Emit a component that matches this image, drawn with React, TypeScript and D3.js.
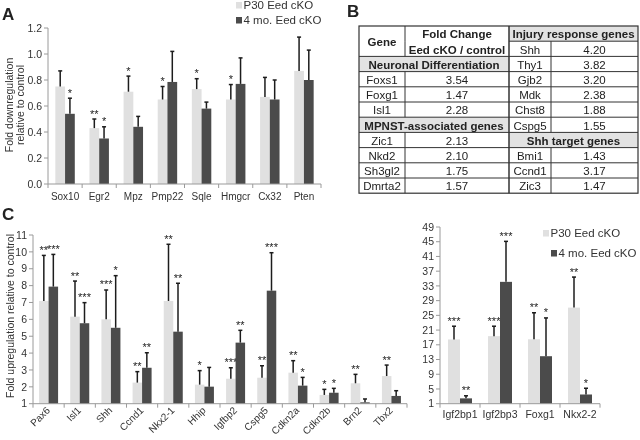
import React from 'react';
import * as d3 from 'd3';

const FONT = "'Liberation Sans', Arial, Helvetica, sans-serif";
const LIGHT = '#e0e0e0';
const DARK = '#4b4b4b';
const ERR = '#1c1c1c';
const AXIS = '#9a9a9a';

const seriesNames = ['P30 Eed cKO', '4 mo. Eed cKO'];

// ---------- Panel A ----------
const aGenes = ['Sox10', 'Egr2', 'Mpz', 'Pmp22', 'Sqle', 'Hmgcr', 'Cx32', 'Pten'];
const aP30 = [0.75, 0.43, 0.71, 0.65, 0.73, 0.65, 0.67, 0.87];
const aP30Err = [0.12, 0.07, 0.12, 0.10, 0.08, 0.115, 0.15, 0.26];
const aP30Sig = ['', '**', '*', '*', '*', '*', '', ''];
const a4mo = [0.54, 0.35, 0.44, 0.785, 0.58, 0.77, 0.65, 0.80];
const a4moErr = [0.12, 0.09, 0.08, 0.235, 0.05, 0.20, 0.15, 0.23];
const a4moSig = ['*', '*', '', '', '', '', '', ''];
const aTicks = [0, 0.2, 0.4, 0.6, 0.8, 1.0, 1.2];

// ---------- Panel C (left) ----------
const cGenes = ['Pax6', 'Isl1', 'Shh', 'Ccnd1', 'Nkx2-1', 'Hhip', 'Igfbp2', 'Cspg5', 'Cdkn2a', 'Cdkn2b', 'Brn2', 'Tbx2'];
const cP30 = [7.09, 6.16, 6.0, 2.25, 7.09, 2.13, 2.48, 2.54, 2.84, 1.52, 2.21, 2.64];
const cP30Err = [2.7, 2.11, 1.74, 0.65, 3.36, 0.83, 0.65, 0.71, 0.71, 0.33, 0.53, 0.65];
const cP30Sig = ['**', '**', '***', '**', '**', '*', '***', '**', '**', '*', '**', '**'];
const c4mo = [7.94, 5.77, 5.5, 3.13, 5.27, 2.01, 4.62, 7.7, 2.07, 1.65, 1.08, 1.46];
const c4moErr = [1.91, 1.22, 3.09, 0.89, 2.87, 1.14, 0.73, 2.25, 0.49, 0.26, 0.2, 0.31];
const c4moSig = ['***', '***', '*', '**', '**', '', '**', '***', '*', '*', '', ''];
const cTicks = [1, 2, 3, 4, 5, 6, 7, 8, 9, 10, 11];

// ---------- Panel C (right) ----------
const dGenes = ['Igf2bp1', 'Igf2bp3', 'Foxg1', 'Nkx2-2'];
const dP30 = [18.45, 19.35, 18.5, 27.1];
const dP30Err = [3.6, 2.7, 7.2, 8.3];
const dP30Sig = ['***', '***', '**', '**'];
const d4mo = [2.45, 34.1, 13.9, 3.5];
const d4moErr = [0.7, 11.0, 10.4, 1.7];
const d4moSig = ['**', '***', '*', '*'];
const dTicks = [1, 5, 9, 13, 17, 21, 25, 29, 33, 37, 41, 45, 49];

// ---------- Panel B (table) ----------
const neuroGenes = ['Foxs1', 'Foxg1', 'Isl1'];
const neuroVals = ['3.54', '1.47', '2.28'];
const mpnstGenes = ['Zic1', 'Nkd2', 'Sh3gl2', 'Dmrta2'];
const mpnstVals = ['2.13', '2.10', '1.75', '1.57'];
const injuryGenes = ['Shh', 'Thy1', 'Gjb2', 'Mdk', 'Chst8', 'Cspg5'];
const injuryVals = ['4.20', '3.82', '3.20', '2.38', '1.88', '1.55'];
const shhGenes = ['Bmi1', 'Ccnd1', 'Zic3'];
const shhVals = ['1.43', '3.17', '1.47'];

type PanelProps = {
  genes: string[];
  v1: number[]; e1: number[]; s1: string[];
  v2: number[]; e2: number[]; s2: string[];
  x0: number; x1: number; yBase: number; yTop: number;
  domain: [number, number]; ticks: number[]; fmt: (v: number) => string;
  rotate: boolean; pad: number; labelY: number; labelSize: number;
};

function BarPanel(p: PanelProps) {
  const x = d3.scaleBand<string>().domain(p.genes).range([p.x0, p.x1]).paddingInner(p.pad).paddingOuter(p.pad / 2);
  const y = d3.scaleLinear().domain(p.domain).range([p.yBase, p.yTop]);
  const sub = d3.scaleBand<number>().domain([0, 1]).range([0, x.bandwidth()]);
  const base = y(p.domain[0]);
  const step = x.step();
  const series = [
    { v: p.v1, e: p.e1, s: p.s1, c: LIGHT },
    { v: p.v2, e: p.e2, s: p.s2, c: DARK },
  ];
  return (
    <g>
      <line x1={p.x0} x2={p.x0} y1={base} y2={y(p.ticks[p.ticks.length - 1])} stroke={AXIS} />
      {p.ticks.map((t) => (
        <g key={'yt' + t}>
          <line x1={p.x0 - 4} x2={p.x0} y1={y(t)} y2={y(t)} stroke={AXIS} />
          <text x={p.x0 - 6} y={y(t)} dy="0.35em" textAnchor="end" fontSize={10.5} fill="#333">{p.fmt(t)}</text>
        </g>
      ))}
      {series.map((sr, k) =>
        p.genes.map((g, i) => {
          const bx = (x(g) as number) + (sub(k) as number);
          const bw = sub.bandwidth();
          const cx = bx + bw / 2;
          const top = y(sr.v[i]);
          const et = y(sr.v[i] + sr.e[i]);
          return (
            <g key={k + g}>
              <rect x={bx} y={top} width={bw} height={base - top} fill={sr.c} />
              <line x1={cx} x2={cx} y1={top} y2={et} stroke={ERR} strokeWidth={1.5} />
              <line x1={cx - 2} x2={cx + 2} y1={et} y2={et} stroke={ERR} strokeWidth={1.5} />
              {sr.s[i] && (
                <text x={cx} y={et - 1.5} textAnchor="middle" fontSize={11} fill="#222">{sr.s[i]}</text>
              )}
            </g>
          );
        })
      )}
      <line x1={p.x0} x2={p.x1} y1={base} y2={base} stroke={AXIS} />
      {d3.range(p.genes.length + 1).map((i) => (
        <line key={'xt' + i} x1={p.x0 + i * step} x2={p.x0 + i * step} y1={base} y2={base + 4} stroke={AXIS} />
      ))}
      {p.genes.map((g) => {
        const cx = (x(g) as number) + x.bandwidth() / 2;
        return p.rotate ? (
          <text key={'xl' + g} transform={`translate(${cx + 2},${p.labelY}) rotate(-45)`} textAnchor="end" fontSize={p.labelSize} fill="#333">{g}</text>
        ) : (
          <text key={'xl' + g} x={cx} y={p.labelY} textAnchor="middle" fontSize={p.labelSize} fill="#333">{g}</text>
        );
      })}
    </g>
  );
}

function Legend({ x, y, dy, dx2 }: { x: number; y: number; dy: number; dx2: number }) {
  return (
    <g fontSize={11.5} fill="#333">
      {seriesNames.map((n, i) => (
        <g key={n} transform={`translate(${x + i * dx2},${y + i * dy})`}>
          <rect x={0} y={-7} width={6} height={6.5} fill={i === 0 ? LIGHT : DARK} />
          <text x={7.5} y={0}>{n}</text>
        </g>
      ))}
    </g>
  );
}

function Table() {
  const L = 359, C1 = 405, C2 = 509, C3 = 551, R = 638;
  const top = 26, h = 15.2, nRows = 11;
  const ry = (r: number) => top + r * h;
  const gray = '#e2e2e2';
  const line = '#333';
  const cells: React.ReactNode[] = [];
  const txt = (key: string, x: number, r: number, s: string, bold = false) => (
    <text key={key} x={x} y={ry(r) + 12.3} textAnchor="middle" fontWeight={bold ? 'bold' : 'normal'}>{s}</text>
  );
  cells.push(<rect key="g1" x={L} y={ry(2)} width={C2 - L} height={h} fill={gray} />);
  cells.push(<rect key="g2" x={L} y={ry(6)} width={C2 - L} height={h} fill={gray} />);
  cells.push(<rect key="g3" x={C2} y={ry(0)} width={R - C2} height={h} fill={gray} />);
  cells.push(<rect key="g4" x={C2} y={ry(7)} width={R - C2} height={h} fill={gray} />);
  cells.push(<text key="hg" x={(L + C1) / 2} y={ry(1) + 4.3} textAnchor="middle" fontWeight="bold">Gene</text>);
  cells.push(txt('hf1', (C1 + C2) / 2, 0, 'Fold Change', true));
  cells.push(txt('hf2', (C1 + C2) / 2, 1, 'Eed cKO / control', true));
  cells.push(txt('hn', (L + C2) / 2, 2, 'Neuronal Differentiation', true));
  neuroGenes.forEach((g, i) => {
    cells.push(txt('ng' + i, (L + C1) / 2, 3 + i, g));
    cells.push(txt('nv' + i, (C1 + C2) / 2, 3 + i, neuroVals[i]));
  });
  cells.push(txt('hm', (L + C2) / 2, 6, 'MPNST-associated genes', true));
  mpnstGenes.forEach((g, i) => {
    cells.push(txt('mg' + i, (L + C1) / 2, 7 + i, g));
    cells.push(txt('mv' + i, (C1 + C2) / 2, 7 + i, mpnstVals[i]));
  });
  cells.push(txt('hi', (C2 + R) / 2, 0, 'Injury response genes', true));
  injuryGenes.forEach((g, i) => {
    cells.push(txt('ig' + i, (C2 + C3) / 2, 1 + i, g));
    cells.push(txt('iv' + i, (C3 + R) / 2, 1 + i, injuryVals[i]));
  });
  cells.push(txt('hs', (C2 + R) / 2, 7, 'Shh target genes', true));
  shhGenes.forEach((g, i) => {
    cells.push(txt('sg' + i, (C2 + C3) / 2, 8 + i, g));
    cells.push(txt('sv' + i, (C3 + R) / 2, 8 + i, shhVals[i]));
  });
  const lines: React.ReactNode[] = [];
  for (let r = 1; r < nRows; r++) {
    if (r !== 1) lines.push(<line key={'hl' + r} x1={L} x2={C2} y1={ry(r)} y2={ry(r)} stroke={line} />);
    lines.push(<line key={'hr' + r} x1={C2} x2={R} y1={ry(r)} y2={ry(r)} stroke={line} />);
  }
  for (let r = 0; r < nRows; r++) {
    if (r !== 2 && r !== 6) lines.push(<line key={'v1' + r} x1={C1} x2={C1} y1={ry(r)} y2={ry(r + 1)} stroke={line} />);
    if (r !== 0 && r !== 7) lines.push(<line key={'v3' + r} x1={C3} x2={C3} y1={ry(r)} y2={ry(r + 1)} stroke={line} />);
  }
  lines.push(<line key="v2" x1={C2} x2={C2} y1={ry(0)} y2={ry(nRows)} stroke={line} strokeWidth={1.5} />);
  lines.push(<rect key="out" x={L} y={top} width={R - L} height={nRows * h} fill="none" stroke={line} strokeWidth={1.2} />);
  return (
    <g fontSize={11.5} fill="#222">
      {cells}
      {lines}
    </g>
  );
}

export default function App() {
  return (
    <svg width={640} height={440} style={{ position: 'absolute', left: 0, top: 0, background: '#fff', filter: 'grayscale(1)' }} fontFamily={FONT}>
      <rect x={0} y={0} width={640} height={440} fill="#fff" />
      <text x={2} y={20} fontSize={17} fontWeight="bold" fill="#222">A</text>
      <text x={347} y={17} fontSize={17} fontWeight="bold" fill="#222">B</text>
      <text x={2} y={220} fontSize={17} fontWeight="bold" fill="#222">C</text>

      {/* Panel A */}
      <text transform="translate(12.5,105) rotate(-90)" textAnchor="middle" fontSize={10.5} fill="#333">Fold downregulation</text>
      <text transform="translate(23.5,105) rotate(-90)" textAnchor="middle" fontSize={10.5} fill="#333">relative to control</text>
      <BarPanel genes={aGenes} v1={aP30} e1={aP30Err} s1={aP30Sig} v2={a4mo} e2={a4moErr} s2={a4moSig}
        x0={48} x1={321} yBase={184} yTop={28} domain={[0, 1.2]} ticks={aTicks} fmt={d3.format('.1f')}
        rotate={false} pad={0.43} labelY={200} labelSize={10} />
      <Legend x={236} y={9} dy={15} dx2={0} />

      {/* Panel B */}
      <Table />

      {/* Panel C left */}
      <text transform="translate(13.5,316) rotate(-90)" textAnchor="middle" fontSize={10.5} fill="#333">Fold upregulation  relative to control</text>
      <BarPanel genes={cGenes} v1={cP30} e1={cP30Err} s1={cP30Sig} v2={c4mo} e2={c4moErr} s2={c4moSig}
        x0={33} x1={407} yBase={403.7} yTop={235} domain={[1, 11]} ticks={cTicks} fmt={d3.format('d')}
        rotate={true} pad={0.39} labelY={411} labelSize={10} />

      {/* Panel C right */}
      <BarPanel genes={dGenes} v1={dP30} e1={dP30Err} s1={dP30Sig} v2={d4mo} e2={d4moErr} s2={d4moSig}
        x0={440} x1={600} yBase={403.7} yTop={227} domain={[1, 49]} ticks={dTicks} fmt={d3.format('d')}
        rotate={false} pad={0.4} labelY={418} labelSize={10.5} />
      <Legend x={543} y={237} dy={20} dx2={8} />
    </svg>
  );
}
